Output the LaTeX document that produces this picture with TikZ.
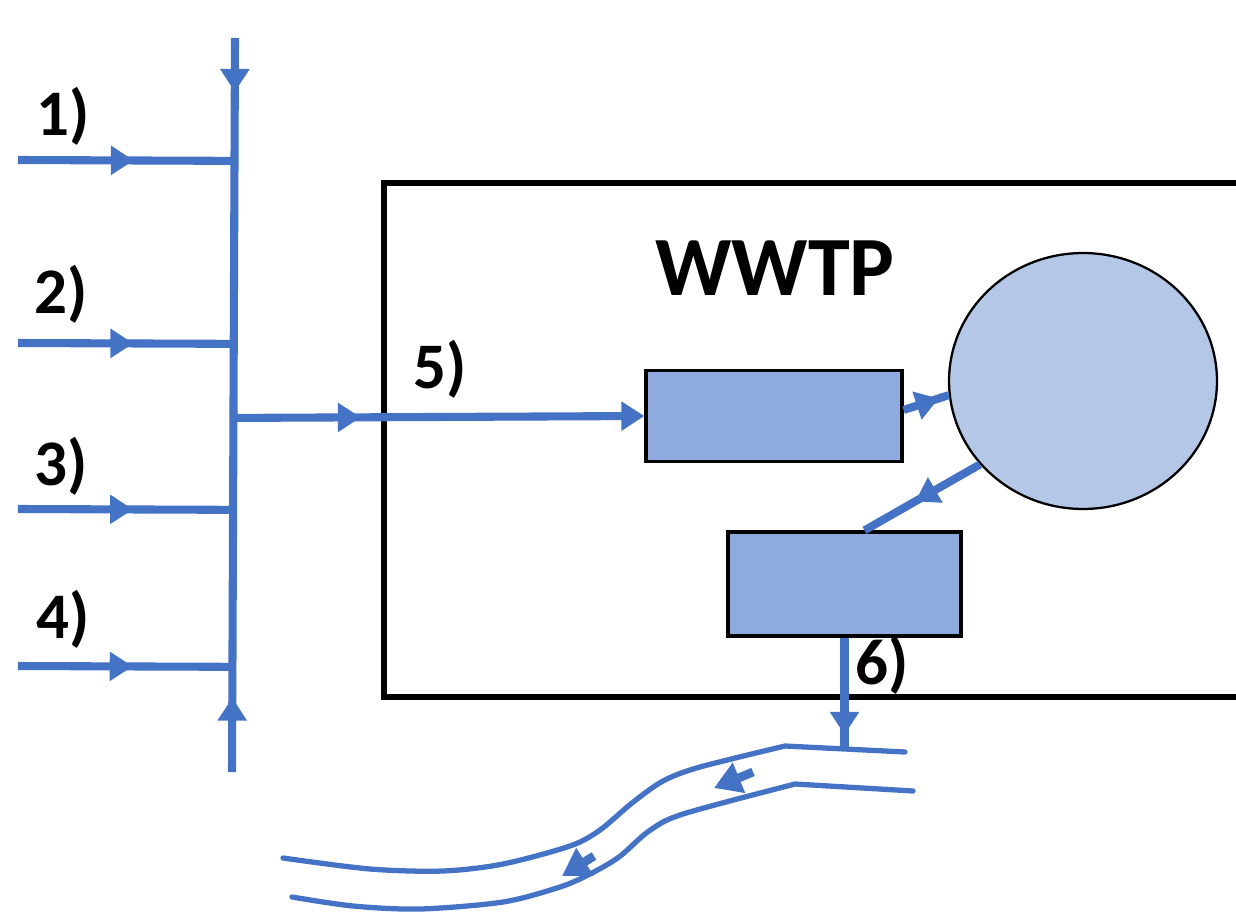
\documentclass[tikz,border=0pt]{standalone}
\usepackage{fontspec}
\setmainfont{Carlito}
\usetikzlibrary{arrows.meta,decorations.markings,shapes.geometric,calc}
\definecolor{flow}{HTML}{4472C4}
\definecolor{boxfill}{HTML}{8FAADC}
\definecolor{circfill}{HTML}{B4C7E7}
\begin{document}
\begin{tikzpicture}[x=0.02cm,y=-0.02cm,
  pipe/.style={draw=flow, color=flow, line width=4.6pt},
  river/.style={draw=flow, line width=3pt, line join=round, line cap=round},
  midarrow/.style={postaction={decorate}, decoration={markings,
     mark=at position #1 with {\arrow{Triangle[length=0.46cm,width=0.56cm]}}}},
  endarrow/.style={-{Triangle[length=0.46cm,width=0.56cm]}},
  flowarrow/.style={draw=flow, color=flow, line width=5pt, -{Triangle[length=0.54cm,width=0.62cm]}},
  lbl/.style={font=\bfseries\fontsize{37}{37}\selectfont, inner sep=0pt},
  title/.style={font=\bfseries\fontsize{48}{48}\selectfont, inner sep=0pt},
  procbox/.style={draw=black, fill=boxfill, line width=1.9pt, inner sep=0pt},
  tank/.style={ellipse, draw=black, fill=circfill, line width=1.3pt, inner sep=0pt,
     minimum width=5.36cm, minimum height=5.12cm},
  plantbox/.style={draw=black, line width=3pt, inner sep=0pt}
]
\useasboundingbox[fill=white] (0,0) rectangle (1236,912);

% plant boundary
\node[plantbox, minimum width=17.52cm, minimum height=10.28cm] (plant) at (822,440) {};
\node[title] (wwtp) at (775,268) {WWTP};

% process units
\node[procbox, minimum width=5.12cm, minimum height=1.82cm] (rect1) at (774,416) {};
\node[procbox, minimum width=4.66cm, minimum height=2.08cm] (rect2) at (844.5,584) {};
\node[tank] (circ) at (1083,381) {};

% collector main
\coordinate (top) at (235,38);
\coordinate (bot) at (232,772);
\coordinate (in1) at (18,160);
\coordinate (in2) at (18,343);
\coordinate (in3) at (18,509);
\coordinate (in4) at (18,666);
\coordinate (jm) at ($(top)!(0,417)!(bot)$);
\coordinate (j1) at ($(top)!(in1)!(bot)$);
\coordinate (j2) at ($(top)!(in2)!(bot)$);
\coordinate (j3) at ($(top)!(in3)!(bot)$);
\coordinate (j4) at ($(top)!(in4)!(bot)$);

\draw[pipe, midarrow=0.142] (top) -- (jm);
\draw[pipe, midarrow=0.21] (bot) -- (jm);
\draw[pipe, midarrow=0.535] (in1) -- (j1);
\draw[pipe, midarrow=0.535] (in2) -- (j2);
\draw[pipe, midarrow=0.535] (in3) -- (j3);
\draw[pipe, midarrow=0.535] (in4) -- (j4);
\draw[pipe, midarrow=0.31, endarrow] (jm) -- (rect1.west);

\node[lbl] (l1) at (63,116) {1)};
\node[lbl] (l2) at (61,294) {2)};
\node[lbl] (l3) at (61,466) {3)};
\node[lbl] (l4) at (63,619) {4)};
\node[lbl] (l5) at (440,369) {5)};
\node[lbl] (l6) at (882,665) {6)};

% internal flows
\draw[pipe, midarrow=0.78] ($(rect1.east)+(0,-6)$) -- (circ.186);
\draw[pipe, midarrow=0.56] (circ.219) -- ($(rect2.north)+(20,0)$);

% discharge
\coordinate (outfall) at (844.5,748);
\draw[pipe, midarrow=0.88] (rect2.south) -- (outfall);

% river banks
\draw[river] (905,752) -- (785,746) -- plot[smooth, tension=0.5] coordinates
  {(785,746) (700,767) (663,781) (632,803) (600,830) (570,846) (503,864) (443,871) (370,869) (283,858)};
\draw[river] (913,791) -- (795,784) -- plot[smooth, tension=0.5] coordinates
  {(795,784) (683,814) (649,831) (619,857) (590,874) (560,887) (503,902) (420,909) (353,906) (292,897)};

% river flow arrows
\coordinate (ra1s) at (753,772);
\coordinate (ra1e) at (714,788);
\coordinate (ra2s) at (594,856);
\coordinate (ra2e) at (562,876);
\draw[flowarrow] (ra1s) -- (ra1e);
\draw[flowarrow] (ra2s) -- (ra2e);
\end{tikzpicture}
\end{document}
